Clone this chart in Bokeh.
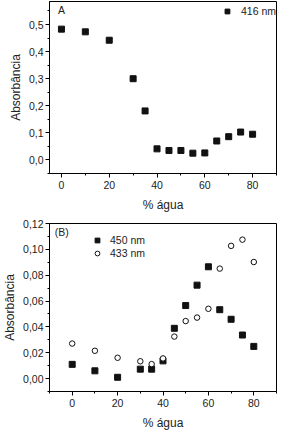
from bokeh.plotting import figure
from bokeh.layouts import column
from bokeh.models import (Range1d, SingleIntervalTicker, CustomJSTickFormatter,
                          Legend, LegendItem, Label)
from bokeh.embed import file_html
from bokeh.resources import INLINE

# ---- data ----
water_a = [0, 10, 20, 30, 35, 40, 45, 50, 55, 60, 65, 70, 75, 80]
abs_416 = [0.483, 0.473, 0.442, 0.300, 0.181, 0.041, 0.035, 0.035, 0.025, 0.026,
           0.070, 0.086, 0.103, 0.095]

water_b = [0, 10, 20, 30, 35, 40, 45, 50, 55, 60, 65, 70, 75, 80]
abs_450 = [0.011, 0.006, 0.001, 0.0073, 0.0073, 0.0137, 0.0389, 0.0565, 0.0723,
           0.0865, 0.0533, 0.0459, 0.0337, 0.0249]
abs_433 = [0.0271, 0.0215, 0.0161, 0.0134, 0.0112, 0.0156, 0.0325, 0.0445, 0.0472,
           0.054, 0.0851, 0.1027, 0.1075, 0.0902]

x_label = "% água"
y_label = "Absorbância"
panel_a = "A"
panel_b = "(B)"
legend_a = ["416 nm"]
legend_b = ["450 nm", "433 nm"]

FONT = "Liberation Sans"
TXT = "#222222"
LEFT = 38


def style(p, xint, yint, ydec):
    p.outline_line_color = "black"
    p.outline_line_width = 1
    p.grid.visible = False
    p.background_fill_color = "white"
    p.border_fill_color = "white"
    for ax in (p.xaxis[0], p.yaxis[0]):
        ax.axis_line_color = "black"
        ax.major_tick_line_color = "black"
        ax.minor_tick_line_color = "black"
        ax.major_tick_out = 4
        ax.major_tick_in = 0
        ax.minor_tick_out = 2
        ax.minor_tick_in = 0
        ax.major_label_text_font = FONT
        ax.major_label_text_font_size = "10.5px"
        ax.major_label_text_color = TXT
        ax.axis_label_text_font = FONT
        ax.axis_label_text_font_size = "12px"
        ax.axis_label_text_font_style = "normal"
        ax.axis_label_text_color = TXT
        ax.major_label_standoff = 3
    p.yaxis[0].major_label_standoff = 2
    p.xaxis[0].ticker = SingleIntervalTicker(interval=xint, num_minor_ticks=2)
    p.yaxis[0].ticker = SingleIntervalTicker(interval=yint, num_minor_ticks=2)
    p.yaxis[0].formatter = CustomJSTickFormatter(
        args=dict(d=ydec), code="return tick.toFixed(d).replace('.', ',');")
    p.xaxis[0].axis_label = x_label
    p.yaxis[0].axis_label = y_label
    p.xaxis[0].axis_label_standoff = 6
    p.yaxis[0].axis_label_standoff = 3


def make_legend(items, loc, h=12, pad=0, standoff=7):
    return Legend(items=items, location=loc, border_line_color=None,
                  background_fill_alpha=0, margin=0, padding=pad,
                  glyph_width=12, glyph_height=h, label_height=h,
                  label_standoff=standoff, spacing=1,
                  label_text_font=FONT, label_text_font_size="10.5px",
                  label_text_color=TXT)


# ---- panel A ----
pa = figure(width=280, height=218, output_backend="svg", toolbar_location=None,
            x_range=Range1d(-5, 90), y_range=Range1d(-0.05, 0.585),
            min_border_left=LEFT, min_border_right=4, min_border_top=1,
            min_border_bottom=45)
style(pa, 20, 0.1, 1)
ra = pa.scatter(water_a, abs_416, marker="square", size=6, color="#111111")
pa.add_layout(Label(x=0, y=0.553, text=panel_a, text_align="center",
                    text_baseline="middle", text_font=FONT,
                    text_font_size="10.5px", text_color=TXT))
pa.add_layout(make_legend([LegendItem(label=legend_a[0], renderers=[ra])],
                          "top_right", h=20, pad=4, standoff=8))

# ---- panel B ----
pb = figure(width=280, height=214, output_backend="svg", toolbar_location=None,
            x_range=Range1d(-10, 90), y_range=Range1d(-0.01, 0.12),
            min_border_left=LEFT, min_border_right=4, min_border_top=5,
            min_border_bottom=32)
style(pb, 20, 0.02, 2)
r450 = pb.scatter(water_b, abs_450, marker="square", size=6, color="#111111")
r433 = pb.scatter(water_b, abs_433, marker="circle", size=5.5,
                  fill_color="white", line_color="#111111", line_width=1)
pb.add_layout(Label(x=-4.6, y=0.1132, text=panel_b, text_align="center",
                    text_baseline="middle", text_font=FONT,
                    text_font_size="10.5px", text_color=TXT))
pb.add_layout(make_legend([LegendItem(label=legend_b[0], renderers=[r450]),
                           LegendItem(label=legend_b[1], renderers=[r433])],
                          (42, 132)))

layout = column(pa, pb, spacing=0)
open("out.html", "w").write(file_html(layout, INLINE))
